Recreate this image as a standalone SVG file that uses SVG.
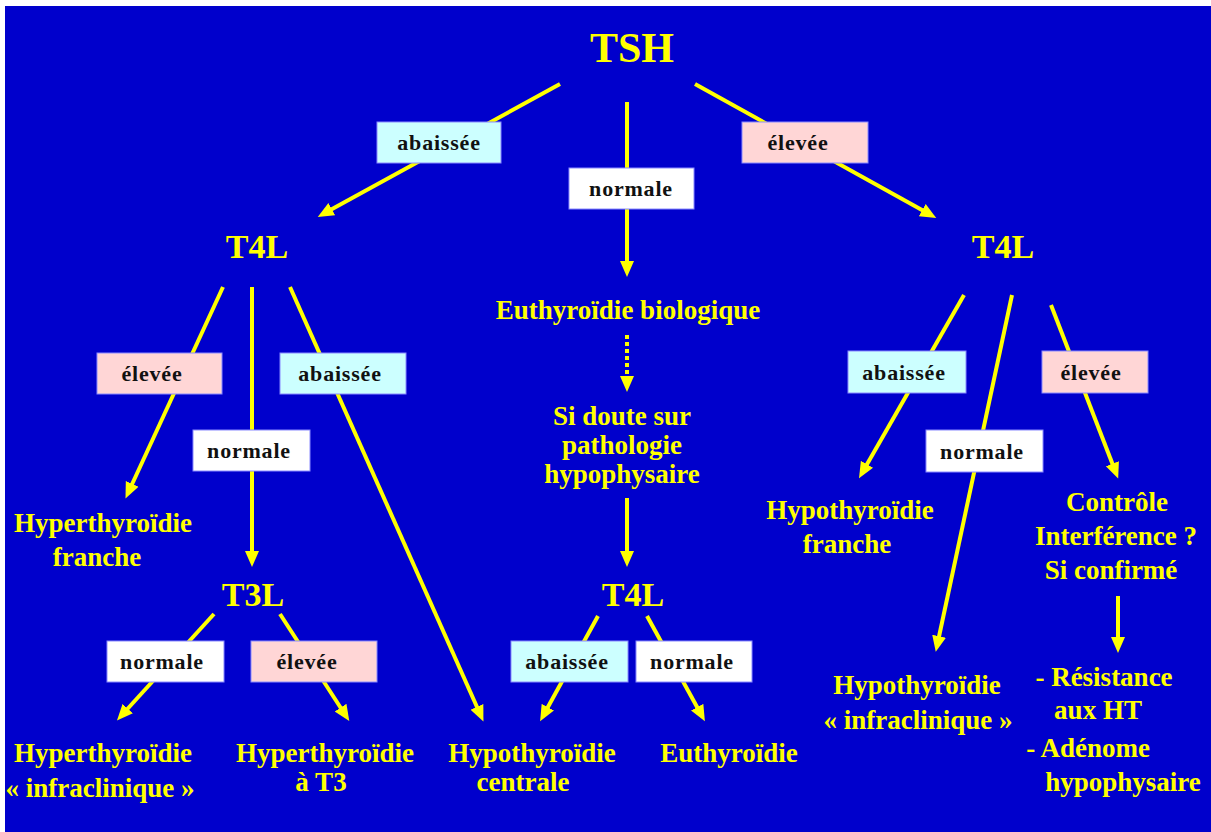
<svg xmlns="http://www.w3.org/2000/svg" width="1211" height="832" viewBox="0 0 1211 832">
<defs>
<style>
.t{font-family:"Liberation Serif","Times New Roman",serif;font-weight:bold;fill:#FFFF00;text-anchor:middle}
.big{font-size:42px}
.mid{font-size:34px}
.txt{font-size:27px}
.lb{font-family:"Liberation Serif","Times New Roman",serif;font-weight:bold;font-size:22px;letter-spacing:0.8px;fill:#111;text-anchor:middle}
.bx{stroke:#8A8AFF;stroke-width:1}
.cy{fill:#CCFFFF}
.pk{fill:#FFD6D6}
.wh{fill:#FFFFFF}
.ln{stroke:#FFFF00;stroke-width:4;fill:none}
.dot{stroke:#FFFF00;stroke-width:4;fill:none;stroke-dasharray:4 3}
</style>
<marker id="ah" markerUnits="userSpaceOnUse" markerWidth="18" markerHeight="16" refX="10" refY="8" orient="auto">
<path d="M0,1 L16,8 L0,15 z" fill="#FFFF00"/>
</marker>
</defs>
<rect x="0" y="0" width="1211" height="832" fill="#FFFFFF"/>
<rect x="5" y="6" width="1206" height="826" fill="#0000CC"/>

<g id="connectors">
<line class="ln" x1="560" y1="84" x2="323" y2="214" marker-end="url(#ah)"/>
<line class="ln" x1="627" y1="102" x2="627" y2="271" marker-end="url(#ah)"/>
<line class="ln" x1="695" y1="84" x2="931" y2="215" marker-end="url(#ah)"/>
<line class="ln" x1="223" y1="287" x2="128" y2="493" marker-end="url(#ah)"/>
<line class="ln" x1="252" y1="287" x2="252" y2="561" marker-end="url(#ah)"/>
<line class="ln" x1="290" y1="287" x2="481" y2="716" marker-end="url(#ah)"/>
<line class="ln" x1="214" y1="614" x2="121" y2="716" marker-end="url(#ah)"/>
<line class="ln" x1="280" y1="614" x2="346" y2="716" marker-end="url(#ah)"/>
<line class="dot" x1="627" y1="335" x2="627" y2="386" marker-end="url(#ah)"/>
<line class="ln" x1="627" y1="498" x2="627" y2="561" marker-end="url(#ah)"/>
<line class="ln" x1="598" y1="616" x2="543" y2="716" marker-end="url(#ah)"/>
<line class="ln" x1="647" y1="616" x2="702" y2="716" marker-end="url(#ah)"/>
<line class="ln" x1="964" y1="295" x2="862" y2="473" marker-end="url(#ah)"/>
<line class="ln" x1="1012" y1="295" x2="937" y2="646" marker-end="url(#ah)"/>
<line class="ln" x1="1051" y1="305" x2="1116" y2="473" marker-end="url(#ah)"/>
<line class="ln" x1="1118" y1="596" x2="1118" y2="647" marker-end="url(#ah)"/>
</g>

<g id="labels">
<g id="lbl-tsh-abaissee"><rect class="bx cy" x="377" y="122" width="124" height="41"/><text class="lb" x="439" y="150">abaissée</text></g>
<g id="lbl-tsh-normale"><rect class="bx wh" x="569" y="168" width="125" height="41"/><text class="lb" x="631" y="196">normale</text></g>
<g id="lbl-tsh-elevee"><rect class="bx pk" x="742" y="122" width="126" height="41"/><text class="lb" x="798" y="150">élevée</text></g>
<g id="lbl-l-elevee"><rect class="bx pk" x="97" y="353" width="125" height="41"/><text class="lb" x="152" y="381">élevée</text></g>
<g id="lbl-l-normale"><rect class="bx wh" x="193" y="430" width="117" height="41"/><text class="lb" x="249" y="458">normale</text></g>
<g id="lbl-l-abaissee"><rect class="bx cy" x="280" y="353" width="126" height="41"/><text class="lb" x="340" y="381">abaissée</text></g>
<g id="lbl-t3-normale"><rect class="bx wh" x="107" y="641" width="117" height="41"/><text class="lb" x="162" y="669">normale</text></g>
<g id="lbl-t3-elevee"><rect class="bx pk" x="251" y="641" width="126" height="41"/><text class="lb" x="307" y="669">élevée</text></g>
<g id="lbl-c-abaissee"><rect class="bx cy" x="511" y="641" width="117" height="41"/><text class="lb" x="567" y="669">abaissée</text></g>
<g id="lbl-c-normale"><rect class="bx wh" x="636" y="641" width="116" height="41"/><text class="lb" x="692" y="669">normale</text></g>
<g id="lbl-r-abaissee"><rect class="bx cy" x="848" y="351" width="118" height="42"/><text class="lb" x="904" y="380">abaissée</text></g>
<g id="lbl-r-normale"><rect class="bx wh" x="926" y="430" width="117" height="42"/><text class="lb" x="982" y="459">normale</text></g>
<g id="lbl-r-elevee"><rect class="bx pk" x="1042" y="351" width="106" height="42"/><text class="lb" x="1091" y="380">élevée</text></g>
</g>

<g id="n-tsh"><text class="t big" x="632" y="62">TSH</text></g>
<g id="n-t4l-left"><text class="t mid" x="257" y="258">T4L</text></g>
<g id="n-t4l-right"><text class="t mid" x="1003" y="258">T4L</text></g>
<g id="n-euthyroidie-bio"><text class="t txt" x="628" y="319">Euthyroïdie biologique</text></g>
<g id="n-si-doute"><text class="t txt" x="622" y="425">Si doute sur</text><text class="t txt" x="622" y="454">pathologie</text><text class="t txt" x="622" y="483">hypophysaire</text></g>
<g id="n-hyper-franche"><text class="t txt" x="103" y="532">Hyperthyroïdie</text><text class="t txt" x="97" y="566">franche</text></g>
<g id="n-t3l"><text class="t mid" x="253" y="606">T3L</text></g>
<g id="n-t4l-center"><text class="t mid" x="633" y="606">T4L</text></g>
<g id="n-hyper-infra"><text class="t txt" x="103" y="762">Hyperthyroïdie</text><text class="t txt" x="100" y="797">« infraclinique »</text></g>
<g id="n-hyper-t3"><text class="t txt" x="325" y="762">Hyperthyroïdie</text><text class="t txt" x="321" y="791">à T3</text></g>
<g id="n-hypo-centrale"><text class="t txt" x="532" y="762">Hypothyroïdie</text><text class="t txt" x="523" y="791">centrale</text></g>
<g id="n-euthyroidie"><text class="t txt" x="729" y="762">Euthyroïdie</text></g>
<g id="n-hypo-franche"><text class="t txt" x="850" y="519">Hypothyroïdie</text><text class="t txt" x="847" y="553">franche</text></g>
<g id="n-controle"><text class="t txt" x="1117" y="511">Contrôle</text><text class="t txt" x="1116" y="545">Interférence ?</text><text class="t txt" x="1111" y="579">Si confirmé</text></g>
<g id="n-hypo-infra"><text class="t txt" x="917" y="694">Hypothyroïdie</text><text class="t txt" x="918" y="729">« infraclinique »</text></g>
<g id="n-resistance"><text class="t txt" x="1104" y="686">- Résistance</text><text class="t txt" x="1098" y="719">aux HT</text><text class="t txt" x="1088" y="757">- Adénome</text><text class="t txt" x="1123" y="791">hypophysaire</text></g>
</svg>
